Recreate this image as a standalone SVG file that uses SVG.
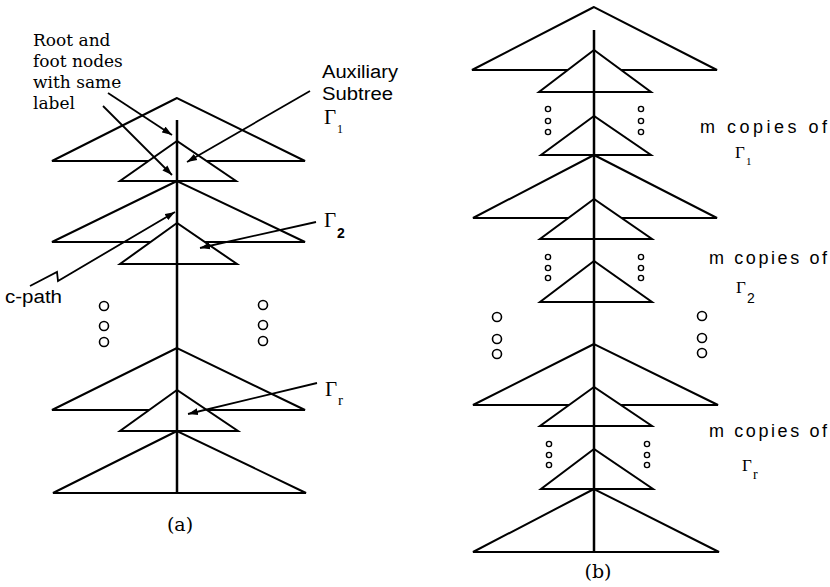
<svg xmlns="http://www.w3.org/2000/svg" width="830" height="587" viewBox="0 0 830 587">
<style>
.tri{fill:#fff;stroke:#000;stroke-width:2;stroke-linejoin:miter}
.spine{stroke:#000;stroke-width:2.5;fill:none}
.dot{fill:#fff;stroke:#000;stroke-width:1.6}
.sdot{fill:#fff;stroke:#000;stroke-width:1.4}
.arr{stroke:#000;stroke-width:1.8;fill:none;marker-end:url(#ah)}
.serif{font-family:"DejaVu Serif","Liberation Serif",serif;font-size:17px;fill:#000}
.sans{font-family:"Liberation Sans",Arial,sans-serif;font-size:18px;fill:#000}
.gam{font-family:"Liberation Serif",serif;fill:#000}
</style>
<defs>
<marker id="ah" markerUnits="userSpaceOnUse" markerWidth="11" markerHeight="8" refX="10" refY="4" orient="auto">
<path d="M0,0.5 L10,4 L0,7.5 z" fill="#000"/>
</marker>
</defs>
<rect width="830" height="587" fill="#fff"/>

<!-- Diagram (a) -->
<g id="treeA">
<polygon class="tri" points="177,98 52,161 305,161"/>
<polygon class="tri" points="177,141 120,181 236,181"/>
<polygon class="tri" points="177,181 52,242 305,242"/>
<polygon class="tri" points="177,223 120,264 237,264"/>
<polygon class="tri" points="177,348 52,410 305,410"/>
<polygon class="tri" points="177,390 120,431 238,431"/>
<polygon class="tri" points="177,431 53,493 306,493"/>
<line class="spine" x1="177" y1="120" x2="177" y2="493"/>
</g>
<g id="dotsA">
<circle class="dot" cx="104" cy="306" r="4.5"/>
<circle class="dot" cx="104" cy="326" r="4.5"/>
<circle class="dot" cx="104" cy="342" r="4.5"/>
<circle class="dot" cx="263" cy="305" r="4.5"/>
<circle class="dot" cx="263" cy="325" r="4.5"/>
<circle class="dot" cx="263" cy="341" r="4.5"/>
</g>
<g id="labelsA">
<text class="serif" x="33" y="46">Root and</text>
<text class="serif" x="33" y="67">foot nodes</text>
<text class="serif" x="33" y="88">with same</text>
<text class="serif" x="33" y="109">label</text>
<text class="sans" x="322" y="78" textLength="76" lengthAdjust="spacingAndGlyphs">Auxiliary</text>
<text class="sans" x="322" y="100" textLength="71" lengthAdjust="spacingAndGlyphs">Subtree</text>
<text class="gam" x="324" y="124" font-size="21">Γ</text>
<text class="gam" x="337" y="133" font-size="12">1</text>
<text class="gam" x="324" y="227" font-size="21">Γ</text>
<text class="sans" x="337" y="238" style="font-size:14px;font-weight:bold">2</text>
<text class="gam" x="325" y="396" font-size="21">Γ</text>
<text class="gam" x="338" y="405" font-size="15">r</text>
<text class="sans" x="5" y="303" textLength="57" lengthAdjust="spacingAndGlyphs">c-path</text>
<text class="serif" x="180" y="531" text-anchor="middle" style="font-size:19px">(a)</text>
</g>

<!-- Diagram (b) -->
<g id="treeB">
<polygon class="tri" points="594,7 472,70 717,70"/>
<polygon class="tri" points="594,50 539,92 651,92"/>
<polygon class="tri" points="594,116 541,155 651,155"/>
<polygon class="tri" points="594,155 473,218 717,218"/>
<polygon class="tri" points="594,199 540,239 652,239"/>
<polygon class="tri" points="594,261 540,302 652,302"/>
<polygon class="tri" points="594,344 473,405 718,405"/>
<polygon class="tri" points="594,387 540,426 652,426"/>
<polygon class="tri" points="594,449 541,489 653,489"/>
<polygon class="tri" points="594,489 473,552 719,552"/>
<line class="spine" x1="594" y1="30" x2="594" y2="552"/>
</g>
<g id="dotsB">
<circle class="sdot" cx="548" cy="109" r="2.6"/>
<circle class="sdot" cx="548" cy="121" r="2.6"/>
<circle class="sdot" cx="548" cy="132" r="2.6"/>
<circle class="sdot" cx="641" cy="109" r="2.6"/>
<circle class="sdot" cx="641" cy="121" r="2.6"/>
<circle class="sdot" cx="641" cy="132" r="2.6"/>
<circle class="sdot" cx="548" cy="257" r="2.6"/>
<circle class="sdot" cx="548" cy="268" r="2.6"/>
<circle class="sdot" cx="548" cy="278" r="2.6"/>
<circle class="sdot" cx="641" cy="257" r="2.6"/>
<circle class="sdot" cx="641" cy="268" r="2.6"/>
<circle class="sdot" cx="641" cy="278" r="2.6"/>
<circle class="sdot" cx="549" cy="444" r="2.6"/>
<circle class="sdot" cx="549" cy="455" r="2.6"/>
<circle class="sdot" cx="549" cy="465" r="2.6"/>
<circle class="sdot" cx="647" cy="444" r="2.6"/>
<circle class="sdot" cx="647" cy="455" r="2.6"/>
<circle class="sdot" cx="647" cy="465" r="2.6"/>
<circle class="dot" cx="497" cy="317" r="4.5"/>
<circle class="dot" cx="497" cy="339" r="4.5"/>
<circle class="dot" cx="497" cy="354" r="4.5"/>
<circle class="dot" cx="702" cy="316" r="4.5"/>
<circle class="dot" cx="702" cy="338" r="4.5"/>
<circle class="dot" cx="702" cy="353" r="4.5"/>
</g>
<g id="labelsB">
<text class="sans" x="700" y="133" textLength="127" lengthAdjust="spacing">m copies of</text>
<text class="gam" x="735" y="158" font-size="17">Γ</text>
<text class="gam" x="746" y="165" font-size="11">1</text>
<text class="sans" x="709" y="264" textLength="118" lengthAdjust="spacing">m copies of</text>
<text class="gam" x="736" y="293" font-size="17">Γ</text>
<text class="sans" x="747" y="303" style="font-size:14px">2</text>
<text class="sans" x="709" y="437" textLength="118" lengthAdjust="spacing">m copies of</text>
<text class="gam" x="742" y="471" font-size="17">Γ</text>
<text class="gam" x="753" y="479" font-size="14">r</text>
<text class="serif" x="598" y="578" text-anchor="middle" style="font-size:19px">(b)</text>
</g>

<g id="connectors">
<line class="arr" x1="108" y1="93" x2="172" y2="135"/>
<line class="arr" x1="103" y1="106" x2="172" y2="175"/>
<line class="arr" x1="310" y1="91" x2="187" y2="162"/>
<polyline class="arr" points="30,286 57,272 58,281 175,212"/>
<line class="arr" x1="316" y1="222" x2="200" y2="248"/>
<line class="arr" x1="317" y1="383" x2="188" y2="414"/>
</g>
</svg>
